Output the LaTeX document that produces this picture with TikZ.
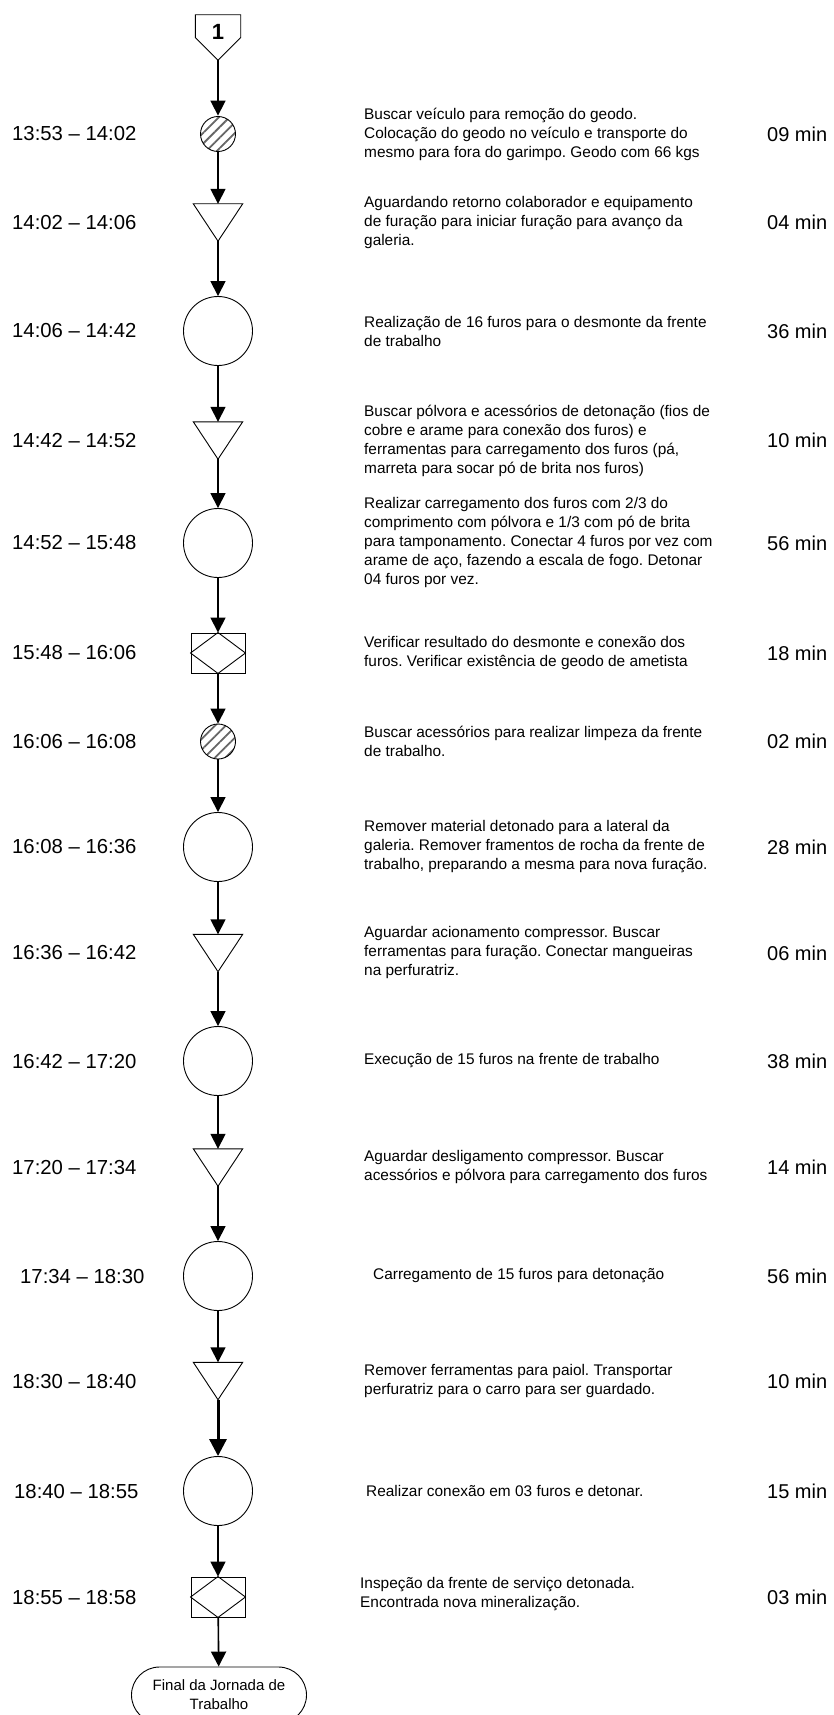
\documentclass[tikz,border=0pt]{standalone}
\usepackage{fontspec}
\setmainfont{Liberation Sans}
\usetikzlibrary{positioning, shapes.misc, arrows.meta, patterns.meta}

\begin{document}
\begin{tikzpicture}[
  x=1pt, y=-1pt,
  hatch/.style={
    circle, draw=black, line width=0.9pt, minimum size=35pt, inner sep=0pt,
    pattern={Lines[angle=45, distance=7.5pt, line width=1.8pt]}, pattern color=black!60
  },
  oper/.style={
    circle, draw=black, line width=0.9pt, minimum size=69pt, inner sep=0pt
  },
  wait/.style={
    rectangle, minimum width=49pt, minimum height=37pt, inner sep=0pt,
    append after command={\pgfextra{\let\wnode\tikzlastnode
      \draw[line width=0.9pt] (\wnode.north west) -- (\wnode.north east)
        -- (\wnode.south) -- cycle;}}
  },
  insp/.style={
    rectangle, draw=black, line width=0.9pt, minimum width=54pt, minimum height=40pt, inner sep=0pt,
    append after command={\pgfextra{\let\inode\tikzlastnode
      \draw[line width=0.9pt] (\inode.north) -- (\inode.east)
        -- (\inode.south) -- (\inode.west) -- cycle;}}
  },
  offpage/.style={
    rectangle, minimum width=45pt, minimum height=45pt, inner sep=0pt,
    font=\fontsize{22}{24}\selectfont\bfseries, text height=15pt, text depth=11pt,
    append after command={\pgfextra{\let\pnode\tikzlastnode
      \draw[line width=0.9pt] (\pnode.north west) -- (\pnode.north east)
        -- (\pnode.east) -- (\pnode.south) -- (\pnode.west) -- cycle;}}
  },
  term/.style={
    rounded rectangle, draw=black, line width=0.9pt, minimum width=175pt,
    minimum height=56pt, inner sep=0pt, align=center, font=\fontsize{15}{19}\selectfont
  },
  tlabel/.style={anchor=west, inner sep=0pt, font=\fontsize{20.3}{24}\selectfont},
  desc/.style={anchor=west, inner sep=0pt, align=left, font=\fontsize{15.4}{19}\selectfont\frenchspacing},
  dur/.style={anchor=west, inner sep=0pt, font=\fontsize{20}{24}\selectfont},
  flow/.style={-{Triangle[length=15pt,width=15pt]}, line width=1.6pt, draw=black},
  boldflow/.style={-{Triangle[length=17pt,width=17pt]}, line width=3pt, draw=black}
]
\useasboundingbox (0,0) rectangle (833,1715);

% Start connector
\node[offpage] (c1) at (218,37.5) {1};

% Row 1
\node[hatch] (s1) at (218,134) {};
\node[tlabel] (t1) at (12,134) {13:53 -- 14:02};
\node[desc] (d1) at (364,134) {Buscar veículo para remoção do geodo.\\Colocação do geodo no veículo e transporte do\\mesmo para fora do garimpo. Geodo com 66 kgs};
\node[dur] (m1) at (767,134) {09 min};

% Row 2
\node[wait] (s2) at (218,222.5) {};
\node[tlabel] (t2) at (12,222.5) {14:02 -- 14:06};
\node[desc] (d2) at (364,222.5) {Aguardando retorno colaborador e equipamento\\de furação para iniciar furação para avanço da\\galeria.};
\node[dur] (m2) at (767,222.5) {04 min};

% Row 3
\node[oper] (s3) at (218,331) {};
\node[tlabel] (t3) at (12,331) {14:06 -- 14:42};
\node[desc] (d3) at (364,331) {Realização de 16 furos para o desmonte da frente\\de trabalho};
\node[dur] (m3) at (767,331) {36 min};

% Row 4
\node[wait] (s4) at (218,440.5) {};
\node[tlabel] (t4) at (12,440.5) {14:42 -- 14:52};
\node[desc] (d4) at (364,440.5) {Buscar pólvora e acessórios de detonação (fios de\\cobre e arame para conexão dos furos) e\\ferramentas para carregamento dos furos (pá,\\marreta para socar pó de brita nos furos)};
\node[dur] (m4) at (767,440.5) {10 min};

% Row 5
\node[oper] (s5) at (218,543) {};
\node[tlabel] (t5) at (12,543) {14:52 -- 15:48};
\node[desc] (d5) at (364,543) {Realizar carregamento dos furos com 2/3 do\\comprimento com pólvora e 1/3 com pó de brita\\para tamponamento. Conectar 4 furos por vez com\\arame de aço, fazendo a escala de fogo. Detonar\\04 furos por vez.};
\node[dur] (m5) at (767,543) {56 min};

% Row 6
\node[insp] (s6) at (218,653) {};
\node[tlabel] (t6) at (12,653) {15:48 -- 16:06};
\node[desc] (d6) at (364,653) {Verificar resultado do desmonte e conexão dos\\furos. Verificar existência de geodo de ametista};
\node[dur] (m6) at (767,653) {18 min};

% Row 7
\node[hatch] (s7) at (218,741.5) {};
\node[tlabel] (t7) at (12,741.5) {16:06 -- 16:08};
\node[desc] (d7) at (364,741.5) {Buscar acessórios para realizar limpeza da frente\\de trabalho.};
\node[dur] (m7) at (767,741.5) {02 min};

% Row 8
\node[oper] (s8) at (218,847) {};
\node[tlabel] (t8) at (12,847) {16:08 -- 16:36};
\node[desc] (d8) at (364,847) {Remover material detonado para a lateral da\\galeria. Remover framentos de rocha da frente de\\trabalho, preparando a mesma para nova furação.};
\node[dur] (m8) at (767,847) {28 min};

% Row 9
\node[wait] (s9) at (218,953) {};
\node[tlabel] (t9) at (12,953) {16:36 -- 16:42};
\node[desc] (d9) at (364,953) {Aguardar acionamento compressor. Buscar\\ferramentas para furação. Conectar mangueiras\\na perfuratriz.};
\node[dur] (m9) at (767,953) {06 min};

% Row 10
\node[oper] (s10) at (218,1061) {};
\node[tlabel] (t10) at (12,1061) {16:42 -- 17:20};
\node[desc] (d10) at (364,1061) {Execução de 15 furos na frente de trabalho};
\node[dur] (m10) at (767,1061) {38 min};

% Row 11
\node[wait] (s11) at (218,1167.5) {};
\node[tlabel] (t11) at (12,1167.5) {17:20 -- 17:34};
\node[desc] (d11) at (364,1167.5) {Aguardar desligamento compressor. Buscar\\acessórios e pólvora para carregamento dos furos};
\node[dur] (m11) at (767,1167.5) {14 min};

% Row 12
\node[oper] (s12) at (218,1276) {};
\node[tlabel] (t12) at (20,1276) {17:34 -- 18:30};
\node[desc] (d12) at (373,1276) {Carregamento de 15 furos para detonação};
\node[dur] (m12) at (767,1276) {56 min};

% Row 13
\node[wait] (s13) at (218,1381) {};
\node[tlabel] (t13) at (12,1381) {18:30 -- 18:40};
\node[desc] (d13) at (364,1381) {Remover ferramentas para paiol. Transportar\\perfuratriz para o carro para ser guardado.};
\node[dur] (m13) at (767,1381) {10 min};

% Row 14
\node[oper] (s14) at (218,1491) {};
\node[tlabel] (t14) at (14,1491) {18:40 -- 18:55};
\node[desc] (d14) at (366,1491) {Realizar conexão em 03 furos e detonar.};
\node[dur] (m14) at (767,1491) {15 min};

% Row 15
\node[insp] (s15) at (218,1597) {};
\node[tlabel] (t15) at (12,1597) {18:55 -- 18:58};
\node[desc] (d15) at (360,1594) {Inspeção da frente de serviço detonada.\\Encontrada nova mineralização.};
\node[dur] (m15) at (767,1597) {03 min};

% End
\node[term] (fin) at (219,1695) {Final da Jornada de\\Trabalho};

% Main vertical flow
\draw[flow] (c1) -- (s1);
\draw[flow] (s1) -- (s2);
\draw[flow] (s2) -- (s3);
\draw[flow] (s3) -- (s4);
\draw[flow] (s4) -- (s5);
\draw[flow] (s5) -- (s6);
\draw[flow] (s6) -- (s7);
\draw[flow] (s7) -- (s8);
\draw[flow] (s8) -- (s9);
\draw[flow] (s9) -- (s10);
\draw[flow] (s10) -- (s11);
\draw[flow] (s11) -- (s12);
\draw[flow] (s12) -- (s13);
\draw[boldflow] (s13) -- (s14);
\draw[flow] (s14) -- (s15);
\draw[flow] (s15) -- (fin);

\end{tikzpicture}
\end{document}
